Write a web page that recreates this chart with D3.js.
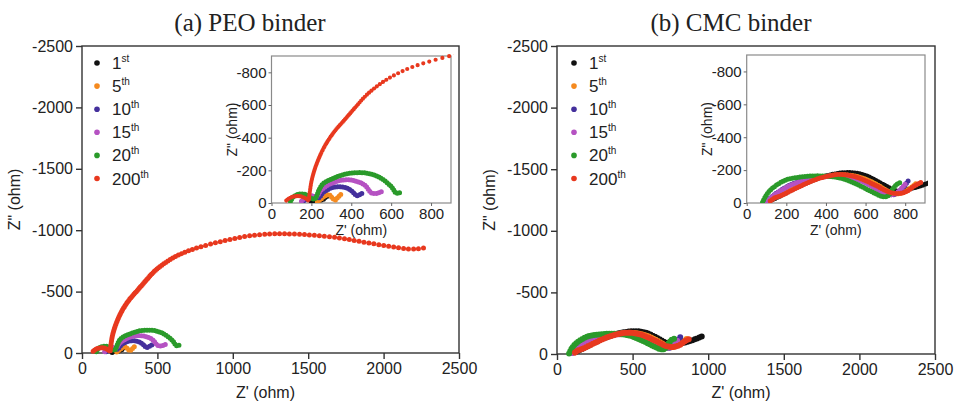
<!DOCTYPE html>
<html>
<head>
<meta charset="utf-8">
<script src="https://cdnjs.cloudflare.com/ajax/libs/d3/7.8.5/d3.min.js"></script>
<style>
    body { margin: 0; background: #fff; }
    text { font-family: "Liberation Sans", Arial, sans-serif; fill: #222; }
    .title { font-family: "Liberation Serif", "Times New Roman", serif; font-size: 25px; }
</style>
</head>
<body>
<div id="chart"></div>
<script>
// cycle labels for the legend
var cycles = ["1", "5", "10", "15", "20", "200"];
var suffixes = ["st", "th", "th", "th", "th", "th"];
var colors = ["#111111", "#f58a1f", "#44309c", "#b552c2", "#2a9a2a", "#e8381e"];

// ticks
var xTicks = [0, 500, 1000, 1500, 2000, 2500];
var yTicks = [0, -500, -1000, -1500, -2000, -2500];
var insetXTicks = [0, 200, 400, 600, 800];
var insetYTicks = [0, -200, -400, -600, -800];

// (a) PEO binder, [Z', Z''] in ohm
var peo_1 = [[200,-5],[225,-15],[245,-18],[260,-22],[270,-35],[278,-42],[285,-38]];
var peo_5 = [[230,-8],[250,-25],[270,-45],[290,-50],[305,-30],[318,-18],[330,-30],[345,-50],[355,-58]];
var peo_10 = [[160,-10],[185,-35],[215,-40],[235,-30],[260,-65],[300,-92],[340,-100],[380,-90],[410,-65],[426,-45],[440,-50],[455,-60],[463,-65]];
var peo_15 = [[150,-10],[170,-35],[200,-45],[225,-40],[250,-80],[300,-120],[367,-142],[420,-135],[467,-110],[501,-62],[520,-58],[540,-63],[553,-70]];
var peo_20 = [[95,-10],[110,-38],[140,-55],[175,-50],[200,-28],[217,-25],[240,-85],[260,-120],[317,-155],[380,-180],[440,-186],[490,-180],[551,-150],[601,-100],[626,-60],[640,-62],[651,-72]];
var peo_200 = [[74,-15],[99,-35],[141,-42],[175,-25],[185,-15],[190,-50],[200,-130],[215,-200],[233,-260],[255,-320],[275,-365],[317,-440],[367,-510],[420,-585],[480,-665],[570,-750],[680,-820],[780,-862],[895,-900],[1000,-930],[1119,-956],[1250,-970],[1341,-971],[1450,-966],[1562,-956],[1700,-938],[1800,-918],[1900,-896],[2006,-875],[2100,-856],[2161,-847],[2230,-848],[2272,-856]];

// (b) CMC binder
var cmc_1 = [[120,-15],[180,-50],[260,-100],[360,-150],[450,-178],[520,-185],[580,-175],[640,-145],[700,-105],[740,-80],[770,-70],[820,-85],[880,-105],[930,-128],[965,-145]];
var cmc_5 = [[110,-10],[170,-55],[250,-110],[350,-150],[450,-170],[530,-168],[600,-145],[660,-110],[710,-75],[750,-55],[790,-65],[830,-95],[860,-125]];
var cmc_10 = [[100,-10],[150,-60],[230,-115],[330,-150],[430,-165],[510,-160],[590,-130],[650,-90],[700,-60],[740,-50],[770,-70],[800,-110],[815,-135]];
var cmc_15 = [[100,-8],[150,-58],[230,-112],[330,-148],[430,-162],[510,-158],[590,-128],[650,-88],[700,-58],[740,-52],[770,-75],[800,-115]];
var cmc_20 = [[80,-5],[100,-50],[128,-88],[195,-139],[279,-159],[364,-165],[430,-160],[481,-149],[566,-108],[633,-67],[690,-38],[715,-45],[734,-80],[759,-115],[775,-125]];
var cmc_200 = [[119,-12],[140,-30],[178,-47],[263,-98],[364,-149],[465,-173],[549,-159],[650,-108],[717,-67],[759,-57],[801,-67],[852,-108],[880,-125]];

var peoData = [peo_1, peo_5, peo_10, peo_15, peo_20, peo_200];
var cmcData = [cmc_1, cmc_5, cmc_10, cmc_15, cmc_20, cmc_200];

var svg = d3.select("#chart")
    .append("svg")
    .attr("width", 954)
    .attr("height", 403);

function fmt(d) { return String(d); }

// markers get sparser along the path (low frequency end), like the measured points
function growingDots(start, rate, maxGap) {
    return function() {
        var L = this.getTotalLength(), s = 0, parts = [];
        while (s < L) {
            var gap = Math.max(1.6, Math.min(maxGap, 1.6 + (s - start) * rate));
            parts.push(0, gap);
            s += gap;
        }
        return parts.join(" ");
    };
}

function drawPanel(cfg) {
    var g = svg.append("g");

    // title
    g.append("text")
        .attr("class", "title")
        .attr("x", cfg.titleX)
        .attr("y", 31)
        .attr("text-anchor", "middle")
        .text(cfg.title);

    // main plot
    var x = d3.scaleLinear().domain([0, 2500]).range([cfg.left, cfg.right]);
    var y = d3.scaleLinear().domain([0, -2500]).range([cfg.bottom, cfg.top]);

    g.append("rect")
        .attr("x", cfg.left).attr("y", cfg.top)
        .attr("width", cfg.right - cfg.left).attr("height", cfg.bottom - cfg.top)
        .attr("fill", "none").attr("stroke", "#333").attr("stroke-width", 1.4);

    var xAxis = g.append("g")
        .attr("transform", "translate(0," + cfg.bottom + ")")
        .call(d3.axisBottom(x).tickValues(xTicks).tickFormat(fmt).tickSize(6).tickPadding(4));
    var yAxis = g.append("g")
        .attr("transform", "translate(" + cfg.left + ",0)")
        .call(d3.axisLeft(y).tickValues(yTicks).tickFormat(fmt).tickSize(6).tickPadding(3));
    [xAxis, yAxis].forEach(function(a) {
        a.select(".domain").remove();
        a.selectAll("line").attr("stroke", "#333").attr("stroke-width", 1.4);
        a.selectAll("text").style("font-size", "16px").attr("fill", "#222");
    });

    g.append("text")
        .attr("x", (cfg.left + cfg.right) / 2 - 5)
        .attr("y", 398)
        .attr("text-anchor", "middle")
        .style("font-size", "16px")
        .text("Z' (ohm)");
    g.append("text")
        .attr("transform", "translate(" + (cfg.left - 62) + "," + ((cfg.top + cfg.bottom) / 2) + ") rotate(-90)")
        .attr("text-anchor", "middle")
        .style("font-size", "16px")
        .text("Z\" (ohm)");

    var line = d3.line()
        .x(function(d) { return x(d[0]); })
        .y(function(d) { return y(d[1]); })
        .curve(d3.curveCatmullRom.alpha(0.5));

    var mainPaths = g.append("g").selectAll("path")
        .data(cfg.data)
        .enter()
        .append("path")
        .attr("d", line)
        .attr("fill", "none")
        .attr("stroke", function(d, i) { return colors[i]; })
        .attr("stroke-width", cfg.mainWidth)
        .attr("stroke-linecap", "round")
        .attr("stroke-dasharray", "0 2.5");
    if (cfg.sparseRed) {
        mainPaths.filter(function(d, i) { return i === 5; })
            .attr("stroke-dasharray", growingDots(110, 0.06, 5));
    }

    // legend
    var legend = g.append("g").selectAll("g")
        .data(cycles)
        .enter()
        .append("g")
        .attr("transform", function(d, i) { return "translate(" + cfg.legendX + "," + (63 + i * 23.1) + ")"; });
    legend.append("circle")
        .attr("r", 2.8)
        .attr("fill", function(d, i) { return colors[i]; });
    var lt = legend.append("text")
        .attr("x", 15)
        .attr("y", 6)
        .style("font-size", "17px");
    lt.append("tspan").text(function(d) { return d; });
    lt.append("tspan")
        .attr("dy", -7)
        .style("font-size", "10px")
        .text(function(d, i) { return suffixes[i]; });

    // inset
    var ix = d3.scaleLinear().domain([0, 900]).range([cfg.inLeft, cfg.inRight]);
    var iy = d3.scaleLinear().domain([0, -900]).range([cfg.inBottom, cfg.inTop]);
    var clipId = "clip-" + cfg.id;

    g.append("clipPath").attr("id", clipId)
        .append("rect")
        .attr("x", cfg.inLeft).attr("y", cfg.inTop - 3)
        .attr("width", cfg.inRight - cfg.inLeft + 3).attr("height", cfg.inBottom - cfg.inTop + 3);

    g.append("rect")
        .attr("x", cfg.inLeft).attr("y", cfg.inTop)
        .attr("width", cfg.inRight - cfg.inLeft).attr("height", cfg.inBottom - cfg.inTop)
        .attr("fill", "#fff").attr("stroke", "#8a8a8a").attr("stroke-width", 1.2);

    var iLine = d3.line()
        .x(function(d) { return ix(d[0]); })
        .y(function(d) { return iy(d[1]); })
        .curve(d3.curveCatmullRom.alpha(0.5));

    var insetPaths = g.append("g")
        .attr("clip-path", "url(#" + clipId + ")")
        .selectAll("path")
        .data(cfg.data)
        .enter()
        .append("path")
        .attr("d", iLine)
        .attr("fill", "none")
        .attr("stroke", function(d, i) { return colors[i]; })
        .attr("stroke-width", 5)
        .attr("stroke-linecap", "round")
        .attr("stroke-dasharray", "0 2.5");
    if (cfg.sparseRed) {
        insetPaths.filter(function(d, i) { return i === 5; })
            .attr("stroke-width", 4.2)
            .attr("stroke-dasharray", growingDots(120, 0.05, 7));
    }

    var ixAxis = g.append("g")
        .attr("transform", "translate(0," + cfg.inBottom + ")")
        .call(d3.axisBottom(ix).tickValues(insetXTicks).tickFormat(fmt).tickSize(3).tickPadding(2));
    var iyAxis = g.append("g")
        .attr("transform", "translate(" + cfg.inLeft + ",0)")
        .call(d3.axisLeft(iy).tickValues(insetYTicks).tickFormat(fmt).tickSize(3).tickPadding(2));
    [ixAxis, iyAxis].forEach(function(a) {
        a.select(".domain").remove();
        a.selectAll("line").attr("stroke", "#666");
        a.selectAll("text").style("font-size", "15px").attr("fill", "#222");
    });

    g.append("text")
        .attr("x", (cfg.inLeft + cfg.inRight) / 2)
        .attr("y", 235)
        .attr("text-anchor", "middle")
        .style("font-size", "14px")
        .text("Z' (ohm)");
    g.append("text")
        .attr("transform", "translate(" + (cfg.inLeft - 35) + "," + ((cfg.inTop + cfg.inBottom) / 2) + ") rotate(-90)")
        .attr("text-anchor", "middle")
        .style("font-size", "14px")
        .text("Z\" (ohm)");
}

drawPanel({
    id: "peo", title: "(a) PEO binder", titleX: 250, data: peoData, sparseRed: true, mainWidth: 5,
    left: 82, right: 459, top: 46, bottom: 353,
    legendX: 97,
    inLeft: 271.5, inRight: 451, inTop: 56, inBottom: 203
});

drawPanel({
    id: "cmc", title: "(b) CMC binder", titleX: 731, data: cmcData, sparseRed: false, mainWidth: 6,
    left: 557, right: 935, top: 46, bottom: 354,
    legendX: 574,
    inLeft: 746.7, inRight: 925, inTop: 55, inBottom: 203
});
</script>
</body>
</html>
